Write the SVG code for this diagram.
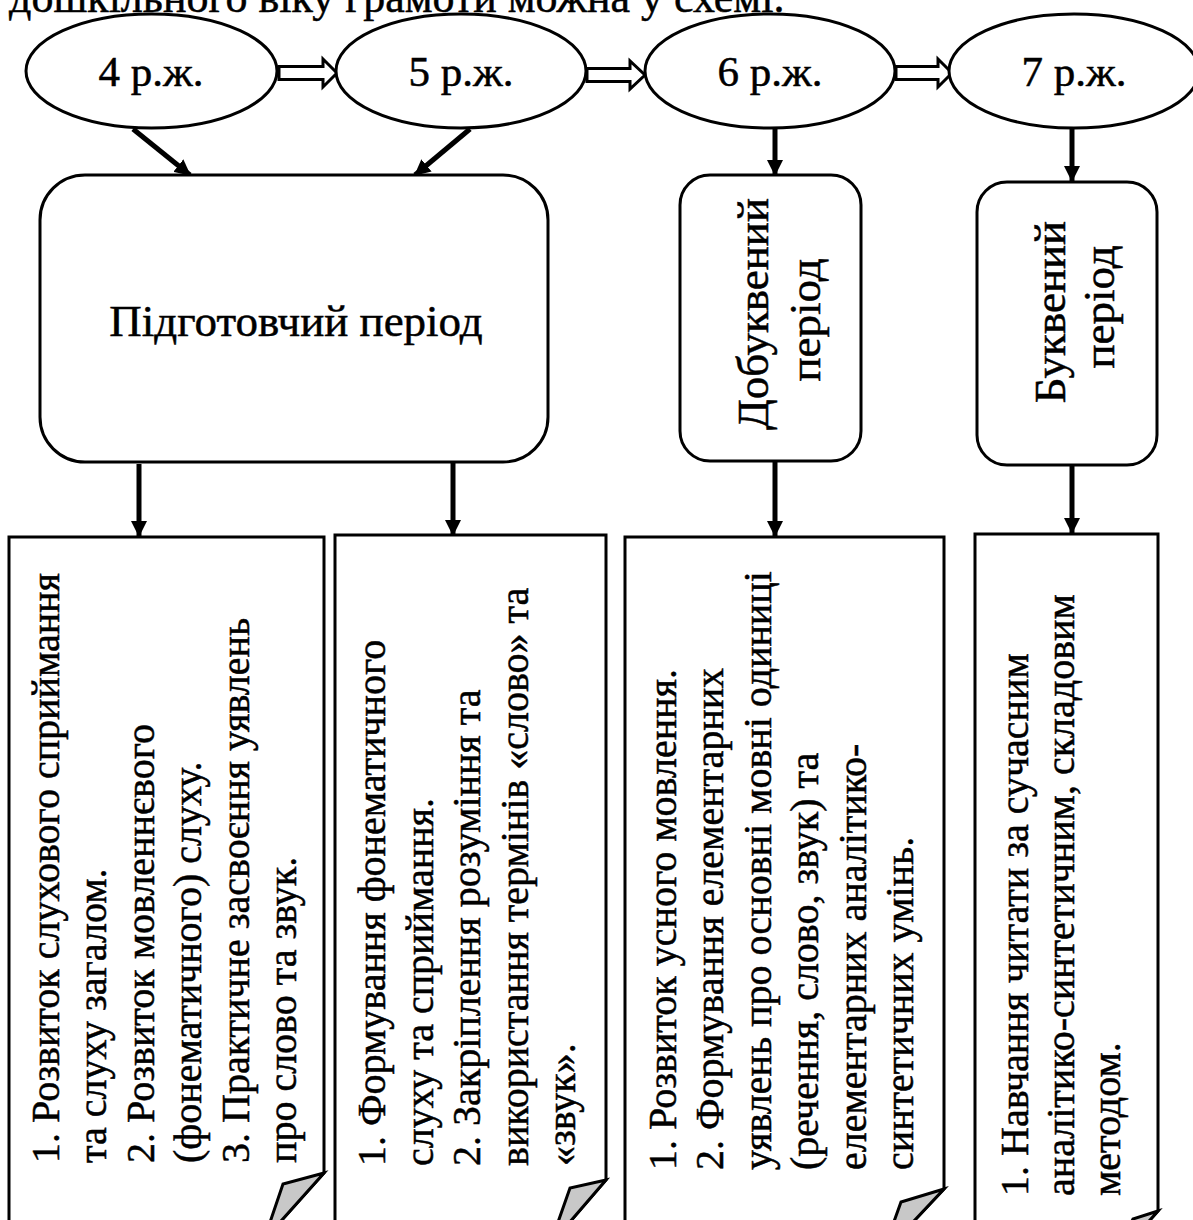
<svg xmlns="http://www.w3.org/2000/svg" width="1193" height="1220" viewBox="0 0 1193 1220" font-family="'Liberation Serif', 'Times New Roman', serif">
<defs>
<style>
text{fill:#000;stroke:#000;stroke-width:0.5}
.cap{font-size:44px}
.lbl{font-size:43px;text-anchor:middle}
.big{font-size:45px;text-anchor:middle}
.body{font-size:40px}
.shape{fill:#fff;stroke:#000;stroke-width:3}
.fold{fill:#c8c8c8;stroke:#000;stroke-width:3;stroke-linejoin:miter}
.conn{stroke:#000;stroke-width:5;fill:none}
.hollow{fill:#fff;stroke:#000;stroke-width:3;stroke-linejoin:miter}
</style>
<marker id="ah" markerUnits="userSpaceOnUse" markerWidth="16" markerHeight="16" viewBox="0 0 16 16" refX="15" refY="8" orient="auto">
<path d="M0,0 L16,8 L0,16 Z" fill="#000"/>
</marker>
</defs>
<rect width="1193" height="1220" fill="#fff"/>
<text class="cap" x="9" y="12">дошкільного віку грамоти можна у схемі.</text>

<g id="connectors">
<polygon class="hollow" points="279,66.5 323,66.5 323,59 337,73 323,87 323,79.5 279,79.5"/>
<polygon class="hollow" points="587,68.5 630,68.5 630,61 645,75 630,89 630,81.5 587,81.5"/>
<polygon class="hollow" points="896,66.5 938,66.5 938,59 952,73 938,87 938,79.5 896,79.5"/>
<line class="conn" x1="133" y1="129" x2="190" y2="175" marker-end="url(#ah)"/>
<line class="conn" x1="470" y1="129" x2="415" y2="175" marker-end="url(#ah)"/>
<line class="conn" x1="775" y1="129" x2="775" y2="175" marker-end="url(#ah)"/>
<line class="conn" x1="1072" y1="129" x2="1072" y2="181" marker-end="url(#ah)"/>
<line class="conn" x1="139" y1="464" x2="139" y2="536" marker-end="url(#ah)"/>
<line class="conn" x1="453" y1="463" x2="453" y2="535" marker-end="url(#ah)"/>
<line class="conn" x1="775" y1="462" x2="775" y2="536" marker-end="url(#ah)"/>
<line class="conn" x1="1072" y1="466" x2="1072" y2="533" marker-end="url(#ah)"/>
</g>

<g id="age4">
<ellipse class="shape" cx="151.5" cy="71" rx="125.5" ry="57"/>
<text class="lbl" x="151" y="86">4 р.ж.</text>
</g>
<g id="age5">
<ellipse class="shape" cx="461" cy="71" rx="125" ry="57"/>
<text class="lbl" x="461" y="86">5 р.ж.</text>
</g>
<g id="age6">
<ellipse class="shape" cx="770" cy="71" rx="125" ry="57"/>
<text class="lbl" x="770" y="86">6 р.ж.</text>
</g>
<g id="age7">
<ellipse class="shape" cx="1074" cy="71" rx="125" ry="57"/>
<text class="lbl" x="1074" y="86">7 р.ж.</text>
</g>

<g id="prep">
<rect class="shape" x="40" y="175" width="508" height="287" rx="45" ry="45"/>
<text class="big" x="296" y="336">Підготовчий період</text>
</g>
<g id="prealpha">
<rect class="shape" x="680" y="175" width="181" height="286" rx="30" ry="30"/>
<text class="big" transform="translate(768,314) rotate(-90)">Добуквений</text>
<text class="big" transform="translate(820,320) rotate(-90)">період</text>
</g>
<g id="alpha">
<rect class="shape" x="977" y="182" width="180" height="283" rx="30" ry="30"/>
<text class="big" transform="translate(1065,312) rotate(-90)">Буквений</text>
<text class="big" transform="translate(1114,307) rotate(-90)">період</text>
</g>

<g id="box1">
<path class="shape" d="M9,537 H324 V1173 L264,1240 H9 Z"/>
<path class="fold" d="M324,1173 L283,1184 L264,1240 Z"/>
<text class="body" transform="translate(59,1163) rotate(-90)"><tspan x="0" y="0">1. Розвиток слухового сприймання</tspan><tspan x="0" y="47.4">та слуху загалом.</tspan><tspan x="0" y="94.8">2. Розвиток мовленнєвого</tspan><tspan x="0" y="142.2">(фонематичного) слуху.</tspan><tspan x="0" y="189.6">3. Практичне засвоєння уявлень</tspan><tspan x="0" y="237">про слово та звук.</tspan></text>
</g>
<g id="box2">
<path class="shape" d="M335,535 H606 V1180 L550,1245 H335 Z"/>
<path class="fold" d="M606,1180 L570,1188 L550,1245 Z"/>
<text class="body" transform="translate(385,1166) rotate(-90)"><tspan x="0" y="0">1. Формування фонематичного</tspan><tspan x="0" y="47.5">слуху та сприймання.</tspan><tspan x="0" y="95">2. Закріплення розуміння та</tspan><tspan x="0" y="142.5">використання термінів «слово» та</tspan><tspan x="0" y="190">«звук».</tspan></text>
</g>
<g id="box3">
<path class="shape" d="M625,537 H944 V1189 L882,1255 H625 Z"/>
<path class="fold" d="M944,1189 L901,1202 L882,1255 Z"/>
<text class="body" transform="translate(676,1170) rotate(-90)"><tspan x="0" y="0">1. Розвиток усного мовлення.</tspan><tspan x="0" y="47.4">2. Формування елементарних</tspan><tspan x="0" y="94.8">уявлень про основні мовні одиниці</tspan><tspan x="0" y="142.2">(речення, слово, звук) та</tspan><tspan x="0" y="189.6">елементарних аналітико-</tspan><tspan x="0" y="237">синтетичних умінь.</tspan></text>
</g>
<g id="box4">
<path class="shape" d="M975,534 H1158 V1211 L1110,1265 H975 Z"/>
<path class="fold" d="M1158,1211 L1133,1219 L1110,1265 Z"/>
<text class="body" transform="translate(1028,1196) rotate(-90)"><tspan x="0" y="0">1. Навчання читати за сучасним</tspan><tspan x="0" y="46">аналітико-синтетичним, складовим</tspan><tspan x="0" y="92">методом.</tspan></text>
</g>
</svg>
